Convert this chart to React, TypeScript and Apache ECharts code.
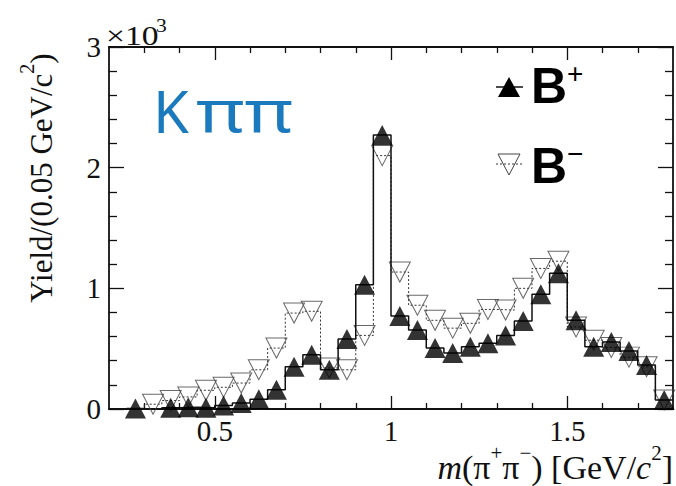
import React, { useEffect, useRef } from "react";
import * as echarts from "echarts";

// Bin centres of m(pi+ pi-) [GeV/c^2], 0.05 GeV wide bins
const binCenters = [
  0.275, 0.325, 0.375, 0.425, 0.475, 0.525, 0.575, 0.625, 0.675, 0.725, 0.775,
  0.825, 0.875, 0.925, 0.975, 1.025, 1.075, 1.125, 1.175, 1.225, 1.275, 1.325,
  1.375, 1.425, 1.475, 1.525, 1.575, 1.625, 1.675, 1.725, 1.775,
];
const binWidth = 0.05;

// B+ yields (filled up triangles, solid histogram)
const bPlus = [
  5, -100, 10, 15, 10, 30, 50, 80, 160, 350, 450, 325, 580, 1030, 2270, 770,
  655, 505, 465, 515, 545, 610, 730, 950, 1125, 735, 515, 555, 480, 365, 75,
];
// B- yields (open down triangles, dotted histogram)
const bMinus = [
  -100, 40, 70, 100, 155, 180, 215, 325, 505, 795, 810, 340, 325, 610, 2100,
  1135, 860, 735, 670, 710, 825, 820, 1000, 1165, 1225, 680, 570, 510, 430, 350,
  75,
];

const xMajorTicks = [0.5, 1, 1.5];
const xMinorTicks = [0.3, 0.4, 0.6, 0.7, 0.8, 0.9, 1.1, 1.2, 1.3, 1.4, 1.6, 1.7];

const SERIF = "'Liberation Serif', 'DejaVu Serif', serif";
const SANS = "'Liberation Sans', Arial, sans-serif";
const INK = "#111";

function stepData(values: number[]) {
  const out: number[][] = [];
  binCenters.forEach((c, i) => {
    out.push([c - binWidth / 2, values[i]]);
    out.push([c + binWidth / 2, values[i]]);
  });
  return out;
}

function xAxisDef(position: "top" | "bottom", ticks: number[], len: number, withLabels: boolean, withLine: boolean) {
  return {
    type: "value",
    position,
    min: 0.2,
    max: 1.8,
    axisLine: { show: withLine, onZero: false, lineStyle: { color: INK, width: 1.8 } },
    axisTick: {
      show: true,
      inside: true,
      length: len,
      customValues: ticks,
      lineStyle: { color: INK, width: 1.3 },
    },
    axisLabel: {
      show: withLabels,
      customValues: ticks,
      formatter: (v: number) => String(v),
      color: INK,
      fontFamily: SERIF,
      fontSize: 29,
      margin: 7,
    },
    splitLine: { show: false },
  };
}

function yAxisDef(position: "left" | "right", withLabels: boolean) {
  return {
    type: "value",
    position,
    min: 0,
    max: 3000,
    interval: 1000,
    axisLine: { show: true, onZero: false, lineStyle: { color: INK, width: 1.8 } },
    axisTick: { show: true, inside: true, length: 15, lineStyle: { color: INK, width: 1.3 } },
    minorTick: { show: true, splitNumber: 5, length: 8, lineStyle: { color: INK, width: 1.3 } },
    axisLabel: {
      show: withLabels,
      formatter: (v: number) => String(v / 1000),
      color: INK,
      fontFamily: SERIF,
      fontSize: 29,
      margin: 8,
    },
    splitLine: { show: false },
    minorSplitLine: { show: false },
  };
}

export default function App() {
  const ref = useRef<HTMLDivElement>(null);
  useEffect(() => {
    if (!ref.current) return;
    const chart = echarts.init(ref.current, null, { renderer: "svg" });
    const scatterPlus = binCenters.map((c, i) => [c, bPlus[i]]);
    const scatterMinus = binCenters.map((c, i) => [c, bMinus[i]]);
    chart.setOption({
      animation: false,
      backgroundColor: "#fff",
      grid: { left: 109, top: 47, width: 564, height: 362, containLabel: false },
      xAxis: [
        xAxisDef("bottom", xMajorTicks, 13, true, true),
        xAxisDef("bottom", xMinorTicks, 6, false, false),
        xAxisDef("top", xMajorTicks, 13, false, true),
        xAxisDef("top", xMinorTicks, 6, false, false),
      ],
      yAxis: [yAxisDef("left", true), yAxisDef("right", false)],
      series: [
        {
          name: "B-hist",
          type: "line",
          data: stepData(bMinus),
          showSymbol: false,
          symbol: "none",
          lineStyle: { color: "#333", width: 1, type: [2, 2] },
          z: 2,
        },
        {
          name: "B-",
          type: "scatter",
          data: scatterMinus,
          symbol: "triangle",
          symbolRotate: 180,
          symbolSize: [21, 20],
          itemStyle: { color: "rgba(255,255,255,0)", borderColor: "#444", borderWidth: 1 },
          z: 3,
        },
        {
          name: "B+hist",
          type: "line",
          data: stepData(bPlus),
          showSymbol: false,
          symbol: "none",
          lineStyle: { color: INK, width: 1.5 },
          z: 4,
        },
        {
          name: "B+",
          type: "scatter",
          data: scatterPlus,
          symbol: "triangle",
          symbolSize: [21, 20],
          itemStyle: { color: "#000" },
          z: 5,
        },
      ],
      graphic: [
        // x10^3 multiplier
        {
          type: "text",
          x: 106,
          y: 35,
          scaleX: 1.2,
          style: { text: "×10", fontFamily: SERIF, fontSize: 28, fill: INK, verticalAlign: "middle" },
        },
        {
          type: "text",
          x: 156,
          y: 26,
          scaleX: 1.2,
          style: { text: "3", fontFamily: SERIF, fontSize: 18, fill: INK, verticalAlign: "middle" },
        },
        // Y axis title
        {
          type: "text",
          x: 37,
          y: 178,
          rotation: Math.PI / 2,
          style: {
            text: "{a|Yield/(0.05 GeV/c}{s|2}{a|)}",
            align: "center",
            verticalAlign: "middle",
            rich: {
              a: { fontFamily: SERIF, fontSize: 31, fill: INK, verticalAlign: "bottom", lineHeight: 40 },
              s: { fontFamily: SERIF, fontSize: 20, fill: INK, verticalAlign: "top", lineHeight: 40 },
            },
          },
        },
        // X axis title
        {
          type: "text",
          x: 673,
          y: 484,
          style: {
            text: "{i|m}{a|(π}{s|+}{a|π}{s|−}{a|) [GeV/}{i|c}{s|2}{a|]}",
            align: "right",
            verticalAlign: "bottom",
            rich: {
              a: { fontFamily: SERIF, fontSize: 34, fill: INK, verticalAlign: "bottom", lineHeight: 42 },
              i: { fontFamily: SERIF, fontStyle: "italic", fontSize: 34, fill: INK, verticalAlign: "bottom", lineHeight: 42 },
              s: { fontFamily: SERIF, fontSize: 21, fill: INK, verticalAlign: "top", lineHeight: 42 },
            },
          },
        },
        // K pi pi label
        {
          type: "text",
          x: 153,
          y: 110,
          style: {
            text: "K",
            fontFamily: "'Noto Sans', 'Open Sans', sans-serif",
            fontSize: 58,
            fill: "#1b79bd",
            verticalAlign: "middle",
          },
        },
        {
          type: "text",
          x: 196,
          y: 110,
          scaleX: 1.28,
          style: {
            text: "ππ",
            fontFamily: "'Noto Sans', 'Open Sans', sans-serif",
            fontSize: 58,
            fill: "#1b79bd",
            verticalAlign: "middle",
          },
        },
        // Legend B+
        { type: "line", shape: { x1: 496, y1: 87, x2: 523, y2: 87 }, style: { stroke: INK, lineWidth: 1.5 } },
        { type: "polygon", shape: { points: [[498, 97], [520, 97], [509, 77]] }, style: { fill: "#000" } },
        {
          type: "text",
          x: 531,
          y: 85,
          style: {
            text: "{b|B}{s|+}",
            verticalAlign: "middle",
            rich: {
              b: { fontFamily: SANS, fontWeight: "bold", fontSize: 50, fill: "#000", verticalAlign: "bottom", lineHeight: 52 },
              s: { fontFamily: SANS, fontSize: 28, fill: "#000", verticalAlign: "top", lineHeight: 52 },
            },
          },
        },
        // Legend B-
        { type: "line", shape: { x1: 496, y1: 164, x2: 523, y2: 164 }, style: { stroke: "#333", lineWidth: 1, lineDash: [2, 2] } },
        { type: "polygon", shape: { points: [[498, 154], [520, 154], [509, 175]] }, style: { fill: "rgba(255,255,255,0)", stroke: "#444", lineWidth: 1 } },
        {
          type: "text",
          x: 531,
          y: 165,
          style: {
            text: "{b|B}{s|−}",
            verticalAlign: "middle",
            rich: {
              b: { fontFamily: SANS, fontWeight: "bold", fontSize: 50, fill: "#000", verticalAlign: "bottom", lineHeight: 52 },
              s: { fontFamily: SANS, fontSize: 28, fill: "#000", verticalAlign: "top", lineHeight: 52 },
            },
          },
        },
      ],
    });
    return () => chart.dispose();
  }, []);
  return (
    <div
      ref={ref}
      style={{ position: "absolute", left: 0, top: 0, width: 676, height: 486, background: "#fff" }}
    />
  );
}
